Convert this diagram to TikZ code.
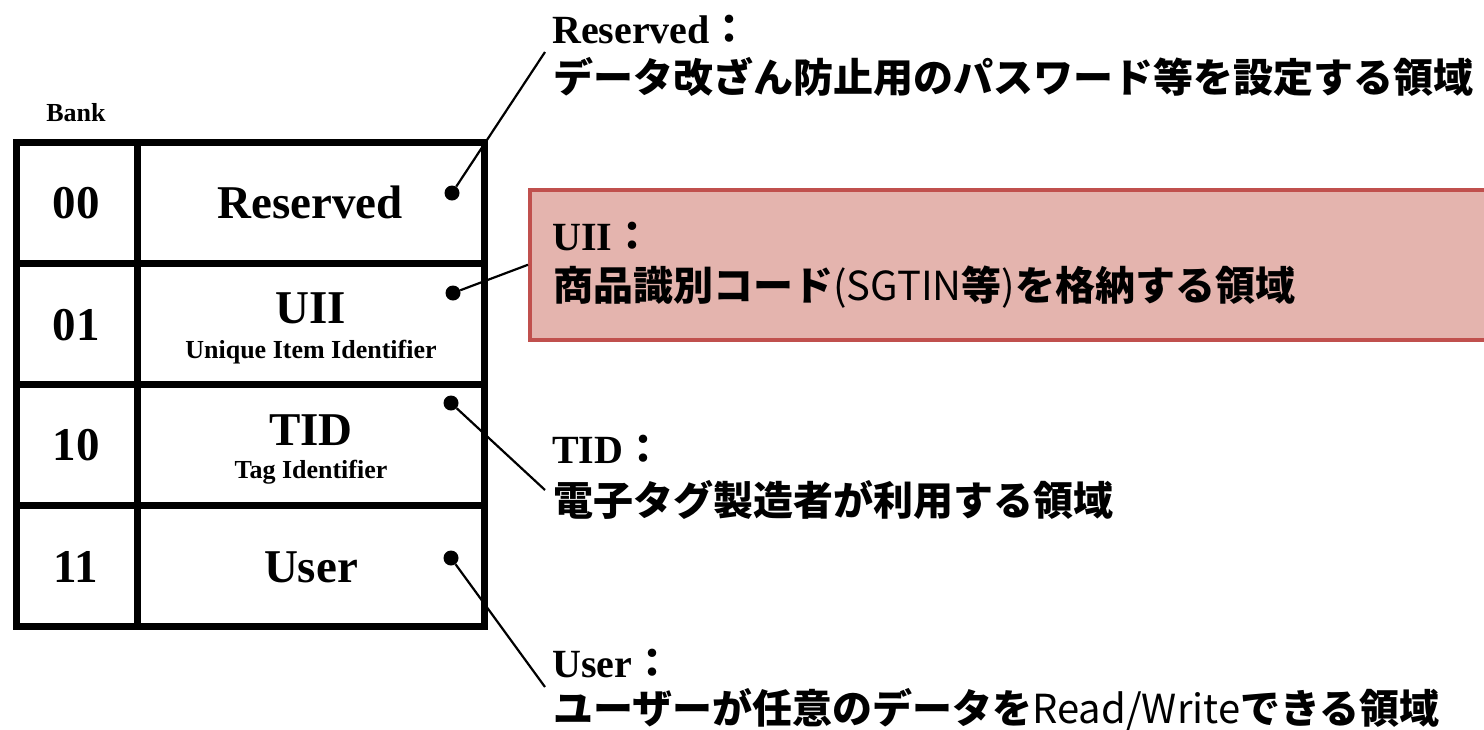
\documentclass[tikz,border=0pt]{standalone}
\usepackage{fontspec}
\setmainfont{Liberation Serif}
\newfontfamily\jp{Noto Sans CJK JP}
\definecolor{boxfill}{HTML}{E4B4AE}
\definecolor{boxline}{HTML}{C0504D}
\begin{document}
\begin{tikzpicture}[x=1pt,y=-1pt,
  grid/.style={line width=7pt},
  cellbig/.style={font=\fontsize{47}{50}\selectfont\bfseries, anchor=base, inner sep=0pt},
  cellsub/.style={font=\fontsize{26}{28}\selectfont\bfseries, anchor=base, inner sep=0pt},
  dot/.style={circle, fill=black, inner sep=0pt, minimum size=15pt},
  conn/.style={line width=2.2pt},
  lbl/.style={font=\fontsize{40}{44}\selectfont\bfseries, anchor=base west, inner sep=0pt},
  jpl/.style={font=\jp\fontsize{40}{44}\selectfont\bfseries, anchor=base west, inner sep=0pt},
  uiibox/.style={draw=boxline, fill=boxfill, line width=3.5pt, inner sep=0pt},
]
\useasboundingbox (0,0) rectangle (1484,729);
\clip (0,0) rectangle (1484,729);

% table
\draw[grid] (16,142) rectangle (484,626);
\draw[grid] (137,142) -- (137,626);
\foreach \yy in {263,384,505} \draw[grid] (16,\yy) -- (484,\yy);

\node[font=\fontsize{26}{28}\selectfont\bfseries] (bank) at (76,113) {Bank};

\node[cellbig] (n00) at (76,218) {00};
\node[cellbig] (n01) at (76,340) {01};
\node[cellbig] (n10) at (76,460) {10};
\node[cellbig] (n11) at (76,582) {11};

\node[cellbig] (tres) at (310,218) {Reserved};
\node[cellbig] (tuii) at (311,323) {UII};
\node[cellsub] (suii) at (311,358) {Unique Item Identifier};
\node[cellbig] (ttid) at (311,445) {TID};
\node[cellsub] (stid) at (311,478) {Tag Identifier};
\node[cellbig] (tuser) at (311,582) {User};

% dots
\node[dot] (d1) at (452,193) {};
\node[dot] (d2) at (453,293) {};
\node[dot] (d3) at (451,403) {};
\node[dot] (d4) at (451,558) {};

% UII box
\node[uiibox, anchor=north west, minimum width=990pt, minimum height=150pt] (uii) at (528,188) {};

% connector ends
\coordinate (e1) at (545,52);
\coordinate (e3) at (545,490);
\coordinate (e4) at (545,687);

\draw[conn] (d1) -- (e1);
\draw[conn] (d2) -- (uii.west);
\draw[conn] (d3) -- (e3);
\draw[conn] (d4) -- (e4);

% labels
\node[lbl] (l1a) at (552,43) {Reserved{\jp\bfseries ：}};
\node[jpl] (l1b) at (553,92) {データ改ざん防止用のパスワード等を設定する領域};

\node[lbl] (l2a) at (552,250) {UII{\jp\bfseries ：}};
\node[jpl] (l2b) at (553,300) {商品識別コード{\mdseries (SGTIN}等{\mdseries )}を格納する領域};

\node[lbl] (l3a) at (552,463) {TID{\jp\bfseries ：}};
\node[jpl] (l3b) at (553,515) {電子タグ製造者が利用する領域};

\node[lbl] (l4a) at (552,677) {User{\jp\bfseries ：}};
\node[jpl] (l4b) at (553,723) {ユーザーが任意のデータを{\mdseries Read/Write}できる領域};
\end{tikzpicture}
\end{document}
